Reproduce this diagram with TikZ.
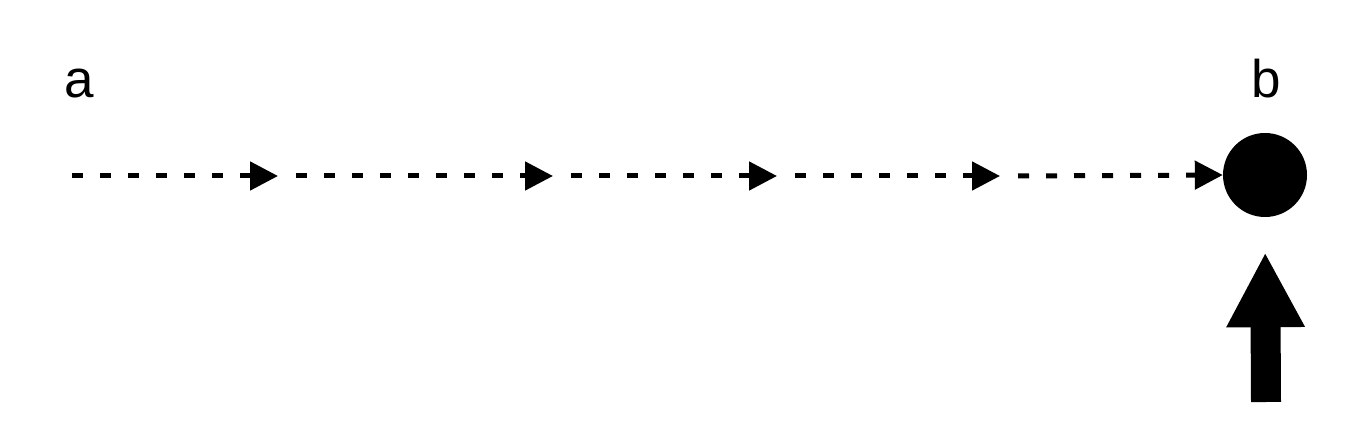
\documentclass[tikz,border=0pt]{standalone}
\usepackage{fontspec}
\setmainfont{Liberation Sans}
\usetikzlibrary{arrows.meta}
\begin{document}
\begin{tikzpicture}[x=1pt,y=-1pt,
  lbl/.style={font=\fontsize{53}{60}\selectfont, anchor=base, inner sep=0pt},
  dashseg/.style={line width=5pt, dash pattern=on 11pt off 17pt, -{Triangle[length=28pt,width=28pt]}},
  bigarrow/.style={line width=30pt, -{Triangle[length=75pt,width=73pt]}, shorten >=35pt}]
\useasboundingbox (0,0) rectangle (1350,430);
\node[lbl] (la) at (79,98) {a};
\node[lbl] (lb) at (1266,98) {b};
\node[circle, fill=black, minimum size=84pt, inner sep=0pt] (b) at (1265,175) {};
\coordinate (s0) at (72,176);
\coordinate (e1) at (278,176);
\coordinate (s1) at (296,176);
\coordinate (e2) at (553,176);
\coordinate (s2) at (571,176);
\coordinate (e3) at (777,176);
\coordinate (s3) at (795,176);
\coordinate (e4) at (1000,176);
\coordinate (s4) at (1018,176);
\draw[dashseg] (s0) -- (e1);
\draw[dashseg] (s1) -- (e2);
\draw[dashseg] (s2) -- (e3);
\draw[dashseg] (s3) -- (e4);
\draw[dashseg] (s4) -- (b.west);
\coordinate (base) at (1266,402);
\draw[bigarrow] (base) -- (b.south);
\end{tikzpicture}
\end{document}
